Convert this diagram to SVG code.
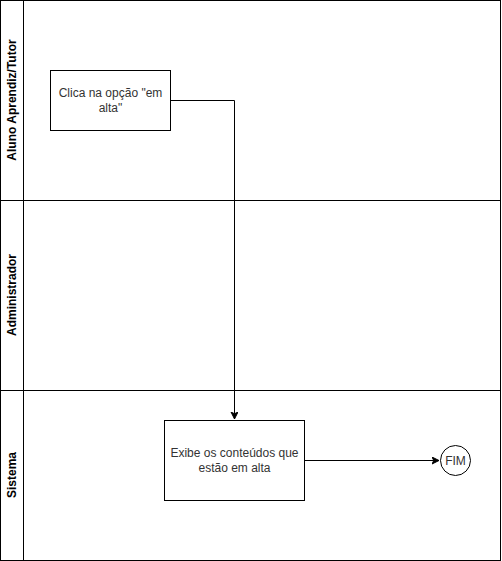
<svg xmlns="http://www.w3.org/2000/svg" width="502" height="561" viewBox="0 0 502 561">
<style>
.ln{fill:none;stroke:#000;stroke-width:1}
.box{fill:#fff;stroke:#000;stroke-width:1}
.lane{font-family:"Liberation Sans",Arial,sans-serif;font-size:12px;font-weight:bold;fill:#000;text-anchor:middle}
.t{font-family:"Liberation Sans",Arial,sans-serif;font-size:12px;fill:#333;text-anchor:middle}
</style>
<defs>
<marker id="arr" markerWidth="10" markerHeight="10" refX="7" refY="3.5" orient="auto" markerUnits="userSpaceOnUse">
<path d="M0,0 L7,3.5 L0,7 L1.75,3.5 Z" fill="#000" stroke="#000" stroke-width="1"/>
</marker>
</defs>
<rect width="502" height="561" fill="#fff"/>
<g id="pool">
<rect class="box" x="0.5" y="0.5" width="500" height="560"/>
<line class="ln" x1="23.5" y1="0.5" x2="23.5" y2="560.5"/>
</g>
<g id="lane-aluno">
<text class="lane" transform="translate(16,100) rotate(-90)">Aluno Aprendiz/Tutor</text>
</g>
<g id="lane-admin">
<line class="ln" x1="0.5" y1="200.5" x2="500.5" y2="200.5"/>
<text class="lane" transform="translate(16,295) rotate(-90)">Administrador</text>
</g>
<g id="lane-sistema">
<line class="ln" x1="0.5" y1="390.5" x2="500.5" y2="390.5"/>
<text class="lane" transform="translate(16,475) rotate(-90)">Sistema</text>
</g>
<g id="connectors">
<path class="ln" d="M170.5,100.5 L234.5,100.5 L234.5,419" marker-end="url(#arr)"/>
<path class="ln" d="M304.5,460.5 L439,460.5" marker-end="url(#arr)"/>
</g>
<g id="node-clica">
<rect class="box" x="50.5" y="70.5" width="120" height="60"/>
<text class="t" x="110.5" y="97">Clica na opção "em</text>
<text class="t" x="110.5" y="112">alta"</text>
</g>
<g id="node-exibe">
<rect class="box" x="164.5" y="420.5" width="140" height="80"/>
<text class="t" x="234.5" y="457">Exibe os conteúdos que</text>
<text class="t" x="234.5" y="472">estão em alta</text>
</g>
<g id="node-fim">
<circle class="box" cx="455.5" cy="460.5" r="15"/>
<text class="t" x="455.5" y="465">FIM</text>
</g>
</svg>
